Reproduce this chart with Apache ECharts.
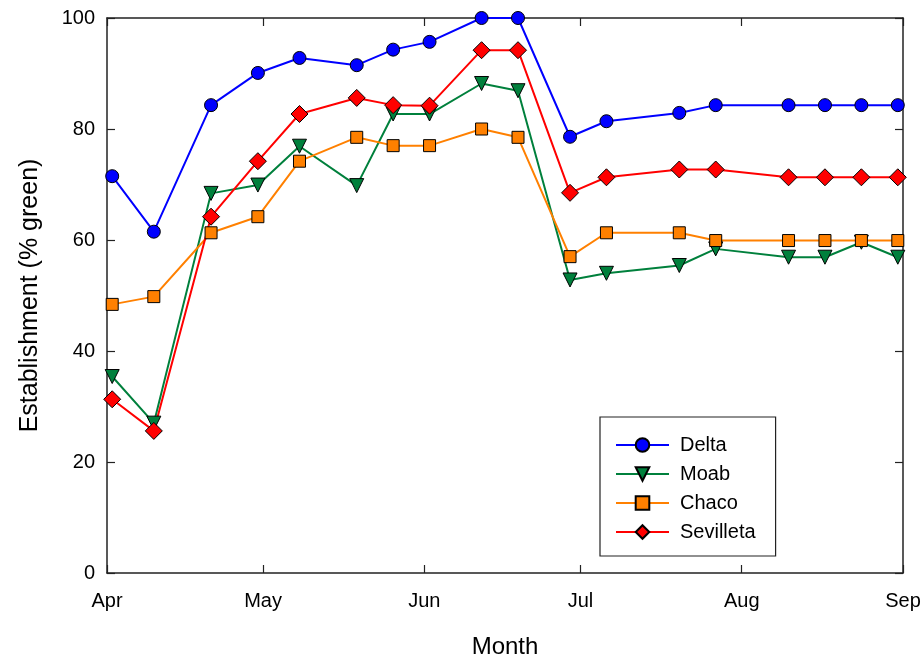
<!DOCTYPE html>
<html>
<head>
<meta charset="utf-8">
<script src="https://cdn.jsdelivr.net/npm/echarts@6/dist/echarts.min.js"></script>
<style>html,body{margin:0;padding:0;background:#fff}#c{width:923px;height:660px}</style>
</head>
<body>
<div id="c"></div>
<script>
const dates = ['2007-04-02','2007-04-10','2007-04-21','2007-04-30','2007-05-08','2007-05-19','2007-05-26','2007-06-02','2007-06-12','2007-06-19','2007-06-29','2007-07-06','2007-07-20','2007-07-27','2007-08-10','2007-08-17','2007-08-24','2007-08-31'];
const delta = [71.5,61.5,84.3,90.1,92.8,91.5,94.3,95.7,100,100,78.6,81.4,82.9,84.3,84.3,84.3,84.3,84.3];
const moab = [35.4,27.0,68.4,69.9,76.9,69.8,82.7,82.7,88.2,86.9,52.8,54.0,55.4,58.4,56.9,56.9,59.6,56.9];
const chaco = [48.4,49.8,61.3,64.2,74.2,78.5,77.0,77.0,80.0,78.5,57.0,61.3,61.3,59.9,59.9,59.9,59.9,59.9];
const sevilleta = [31.3,25.6,64.2,74.2,82.7,85.6,84.3,84.2,94.2,94.2,68.5,71.3,72.7,72.7,71.3,71.3,71.3,71.3];
const tickDates = ['2007-04-01','2007-05-01','2007-06-01','2007-07-01','2007-08-01','2007-09-01'];
const tickLabels = ['Apr','May','Jun','Jul','Aug','Sep'];
const yTicks = [0,20,40,60,80,100];

// days since the first tick date (UTC, so no DST shift)
const toDay = s => Math.round((Date.UTC(+s.slice(0,4), +s.slice(5,7)-1, +s.slice(8,10)) - Date.UTC(2007,3,1)) / 86400000);
const days = dates.map(toDay);
const tickDays = tickDates.map(toDay);
const pairs = arr => arr.map((v,i) => [days[i], v]);

const FONT = 'Liberation Sans, Arial, sans-serif';
const axisLine = {show:true, onZero:false, lineStyle:{color:'#222', width:1.5}};

const chart = echarts.init(document.getElementById('c'), null, {renderer:'canvas'});
function mk(name, data, color, symbol, size, rotate){
  return {name, type:'line', data:pairs(data), clip:false,
    symbol, symbolSize:size, symbolRotate:rotate||0, showAllSymbol:true,
    lineStyle:{color, width:2}, itemStyle:{color, borderColor:'#000', borderWidth:1},
    emphasis:{disabled:true}, animation:false, z: 3};
}
chart.setOption({
  animation:false,
  backgroundColor:'#fff',
  grid:{left:107, right:20, top:18, bottom:87, containLabel:false, outerBoundsMode:'none'},
  legend:{
    orient:'vertical', left:600, top:417,
    backgroundColor:'#fff',
    borderColor:'#222', borderWidth:1.2,
    padding:[18,20,14,15],
    itemWidth:53, itemHeight:17, itemGap:9,
    textStyle:{fontFamily:FONT, fontSize:20, color:'#000', padding:[0,0,0,6]},
    data:['Delta','Moab','Chaco','Sevilleta']
  },
  xAxis:[{
    type:'value', min:tickDays[0], max:tickDays[tickDays.length-1],
    position:'bottom',
    axisLine,
    splitLine:{show:false},
    axisTick:{show:true, inside:true, length:8, customValues:tickDays, lineStyle:{color:'#222', width:1.2}},
    axisLabel:{show:true, customValues:tickDays, margin:18, fontFamily:FONT, fontSize:20, color:'#000',
      formatter: v => { const i = tickDays.indexOf(v); return i>=0 ? tickLabels[i] : ''; }},
    name:'Month', nameLocation:'middle', nameGap:62,
    nameTextStyle:{fontFamily:FONT, fontSize:24, color:'#000'}
  },{
    type:'value', min:tickDays[0], max:tickDays[tickDays.length-1],
    position:'top',
    axisLine,
    splitLine:{show:false},
    axisTick:{show:true, inside:true, length:8, customValues:tickDays, lineStyle:{color:'#222', width:1.2}},
    axisLabel:{show:false}
  }],
  yAxis:[{
    type:'value', min:0, max:100, interval:20, position:'left',
    axisLine,
    splitLine:{show:false},
    axisTick:{show:true, inside:true, length:8, lineStyle:{color:'#222', width:1.2}},
    axisLabel:{margin:12, fontFamily:FONT, fontSize:20, color:'#000',
      formatter: v => yTicks.includes(v) ? String(v) : ''},
    name:'Establishment (% green)', nameLocation:'middle', nameGap:64, nameRotate:90,
    nameTextStyle:{fontFamily:FONT, fontSize:25, color:'#000'}
  },{
    type:'value', min:0, max:100, interval:20, position:'right',
    axisLine,
    splitLine:{show:false},
    axisTick:{show:true, inside:true, length:8, lineStyle:{color:'#222', width:1.2}},
    axisLabel:{show:false}
  }],
  series:[
    mk('Delta', delta, '#0000ff', 'circle', 13),
    mk('Moab', moab, '#00803c', 'triangle', 14, 180),
    mk('Chaco', chaco, '#ff8000', 'rect', 12),
    mk('Sevilleta', sevilleta, '#ff0000', 'diamond', 17)
  ]
});
</script>
</body>
</html>
